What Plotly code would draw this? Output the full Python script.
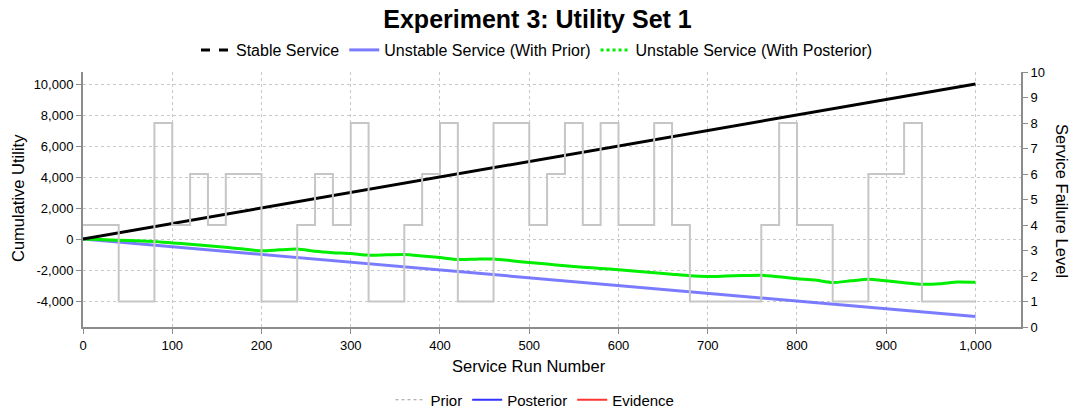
import plotly.graph_objects as go

# Service run axis
run_end = 1000
stable_utility = [0, 10000]
prior_utility = [0, -5000]

# Cumulative utility when decisions use the posterior, sampled every 20 runs
posterior_runs = list(range(0, 1001, 20))
posterior_utility = [
    0, -40, -75, -110, -160, -250, -340, -440, -530, -650,
    -765, -700, -650, -790, -880, -935, -1040, -1020, -1000, -1090,
    -1196, -1320, -1300, -1288, -1400, -1520, -1620, -1720, -1820, -1900,
    -1980, -2080, -2170, -2270, -2373, -2418, -2390, -2360, -2333, -2440,
    -2560, -2650, -2810, -2700, -2595, -2700, -2820, -2920, -2890, -2770,
    -2790,
]

# Failure level of the service (step changes at these runs)
failure_runs = [0, 40, 80, 100, 120, 140, 160, 200, 240, 260, 280, 300, 320, 360,
                380, 400, 420, 460, 500, 520, 540, 560, 580, 600, 640, 660, 680,
                760, 780, 800, 840, 880, 920, 940, 1000]
failure_level = [4, 1, 8, 4, 6, 4, 6, 1, 4, 6, 4, 8, 1, 4,
                 6, 8, 1, 8, 4, 6, 8, 4, 8, 4, 8, 4, 1,
                 4, 8, 4, 1, 6, 8, 1, 1]

utility_ticks = [-4000, -2000, 0, 2000, 4000, 6000, 8000, 10000]
run_ticks = list(range(0, 1001, 100))
level_ticks = list(range(0, 11))

FONT = "Liberation Sans, Arial, sans-serif"
GRID = "#c8c8c8"
AXIS = "#8c8c8c"

PLOT_L, PLOT_R, PLOT_T, PLOT_B = 83, 1021, 72, 327
PW, PH = PLOT_R - PLOT_L, PLOT_B - PLOT_T


def px_x(px):
    return (px - PLOT_L) / PW


def px_y(py):
    return (PLOT_B - py) / PH


def fmt(v):
    return f"{v:,}"


fig = go.Figure()

# failure level steps on the right axis
fig.add_trace(go.Scatter(
    x=failure_runs, y=failure_level, yaxis="y2", mode="lines",
    line=dict(color="#c6c6c6", width=2, shape="hv"), showlegend=False,
))

fig.add_trace(go.Scatter(
    x=[0, run_end], y=prior_utility, mode="lines",
    line=dict(color="rgba(100,100,255,0.85)", width=3), showlegend=False,
))
fig.add_trace(go.Scatter(
    x=posterior_runs, y=posterior_utility, mode="lines",
    line=dict(color="#00ee00", width=3, shape="spline", smoothing=0.6),
    showlegend=False,
))
fig.add_trace(go.Scatter(
    x=[0, run_end], y=stable_utility, mode="lines",
    line=dict(color="black", width=3), showlegend=False,
))

# legend entries (top)
for name, color, dash in [
    ("Stable Service", "black", "dash"),
    ("Unstable Service (With Prior)", "rgba(100,100,255,0.85)", "solid"),
    ("Unstable Service (With Posterior)", "#00ee00", "dot"),
]:
    fig.add_trace(go.Scatter(
        x=[None], y=[None], mode="lines", name=name,
        line=dict(color=color, width=3, dash=dash), legend="legend",
    ))

# legend entries (bottom)
for name, color, dash, w in [
    ("Prior", "#9a9a9a", "dot", 1.2),
    ("Posterior", "#3333ff", "solid", 2),
    ("Evidence", "#ff3333", "solid", 2),
]:
    fig.add_trace(go.Scatter(
        x=[None], y=[None], mode="lines", name=name,
        line=dict(color=color, width=w, dash=dash), legend="legend2",
    ))

fig.update_layout(
    width=1075, height=414,
    margin=dict(l=PLOT_L, r=1075 - PLOT_R, t=PLOT_T, b=414 - PLOT_B, autoexpand=False),
    paper_bgcolor="white", plot_bgcolor="white",
    font=dict(family=FONT, size=13, color="black"),
    title=dict(
        text="<b>Experiment 3: Utility Set 1</b>",
        font=dict(family=FONT, size=25, color="black"),
        x=0.5, xanchor="center", xref="container",
        y=1 - 19 / 414, yanchor="middle", yref="container",
    ),
    xaxis=dict(
        range=[0, 1051], tickvals=run_ticks, ticktext=[fmt(v) for v in run_ticks],
        tickangle=0,
        showgrid=True, gridcolor=GRID, griddash="3px,3px", gridwidth=1,
        showline=True, linecolor=AXIS, linewidth=2,
        ticks="outside", ticklen=5, tickcolor=AXIS,
        zeroline=False, tickfont=dict(size=13),
    ),
    yaxis=dict(
        range=[-5677, 10774], tickvals=utility_ticks,
        ticktext=[fmt(v) for v in utility_ticks],
        showgrid=True, gridcolor=GRID, griddash="3px,3px", gridwidth=1,
        showline=True, linecolor=AXIS, linewidth=2,
        ticks="outside", ticklen=5, tickcolor=AXIS,
        zeroline=False, tickfont=dict(size=13),
    ),
    yaxis2=dict(
        range=[0, 10], tickvals=level_ticks, overlaying="y", side="right",
        showgrid=False, showline=True, linecolor=AXIS, linewidth=2,
        ticks="outside", ticklen=5, tickcolor=AXIS,
        zeroline=False, tickfont=dict(size=13),
    ),
    legend=dict(
        orientation="h", x=px_x(537), xanchor="center",
        y=px_y(50), yanchor="middle",
        font=dict(family=FONT, size=16), itemwidth=30,
        bgcolor="rgba(0,0,0,0)",
    ),
    legend2=dict(
        orientation="h", x=px_x(535), xanchor="center",
        y=px_y(400), yanchor="middle",
        font=dict(family=FONT, size=15), itemwidth=30,
        bgcolor="rgba(0,0,0,0)",
    ),
    annotations=[
        dict(text="Cumulative Utility", xref="paper", yref="paper",
             x=px_x(18), y=px_y(198), textangle=-90, showarrow=False,
             font=dict(family=FONT, size=16.5), xanchor="center", yanchor="middle"),
        dict(text="Service Failure Level", xref="paper", yref="paper",
             x=px_x(1062), y=px_y(201), textangle=90, showarrow=False,
             font=dict(family=FONT, size=16.5), xanchor="center", yanchor="middle"),
        dict(text="Service Run Number", xref="paper", yref="paper",
             x=px_x(529), y=px_y(366), showarrow=False,
             font=dict(family=FONT, size=16.5), xanchor="center", yanchor="middle"),
    ],
)

fig.write_html("out.html")
